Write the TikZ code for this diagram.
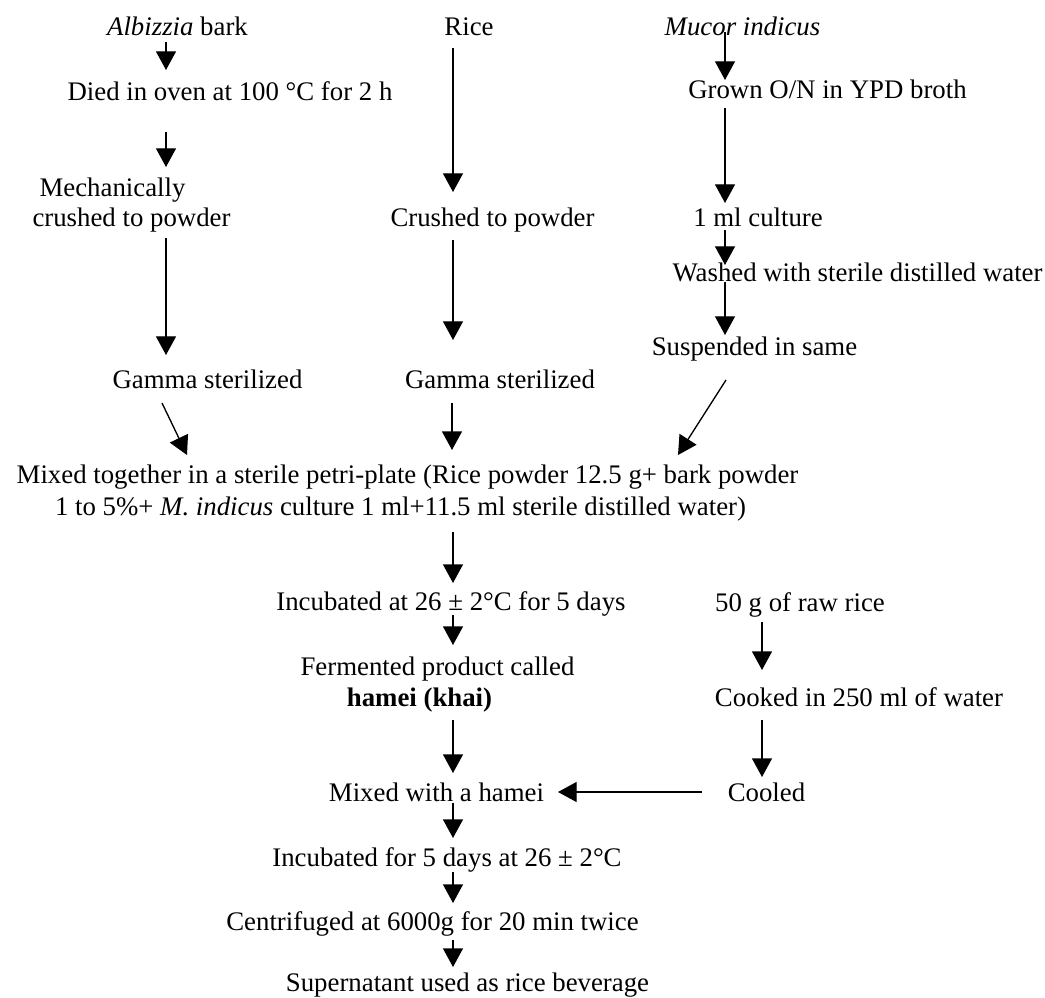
\documentclass[tikz,border=0pt]{standalone}
\usepackage{fontspec}
\setmainfont{Liberation Serif}
\usetikzlibrary{arrows.meta,calc}
\begin{document}
\begin{tikzpicture}[x=0.75pt,y=-0.75pt,
  lbl/.style={anchor=base,inner sep=0pt,font=\fontsize{20.1pt}{22.5pt}\selectfont},
  arr/.style={line width=1pt,-{Triangle[length=14pt,width=15pt]}}]
\useasboundingbox (0,0) rectangle (1045,998);
% left column
\node[lbl] (alb) at (177.5,35.5) {\textit{Albizzia} bark};
\node[lbl] (died) at (230,100.5) {Died in oven at 100 °C for 2 h};
\node[lbl] (mech1) at (112.5,196.5) {Mechanically};
\node[lbl] (mech2) at (131.5,226.5) {crushed to powder};
\node[lbl] (gam1) at (207.5,388.5) {Gamma sterilized};
% middle column
\node[lbl] (rice) at (469,35.5) {Rice};
\node[lbl] (crush) at (492.5,226.5) {Crushed to powder};
\node[lbl] (gam2) at (500,388.5) {Gamma sterilized};
% right column
\node[lbl] (mucor) at (742.5,35.5) {\textit{Mucor indicus}};
\node[lbl] (grown) at (827.5,98.5) {Grown O/N in YPD broth};
\node[lbl] (ml) at (758,226.5) {1 ml culture};
\node[lbl] (wash) at (857.5,281.5) {Washed with sterile distilled water};
\node[lbl] (susp) at (754.5,355.5) {Suspended in same};
% mix
\node[lbl] (mix1) at (407.5,483.5) {Mixed together in a sterile petri-plate (Rice powder 12.5 g+ bark powder};
\node[lbl] (mix2) at (400.5,515.5) {1 to 5\%+ \textit{M. indicus} culture 1 ml+11.5 ml sterile distilled water)};
% lower part
\node[lbl] (inc1) at (451,610.5) {Incubated at 26 ± 2°C for 5 days};
\node[lbl] (ferm1) at (437.5,675.5) {Fermented product called};
\node[lbl] (ferm2) at (419.5,706.5) {\textbf{hamei (khai)}};
\node[lbl] (raw) at (800,611.5) {50 g of raw rice};
\node[lbl] (cook) at (859,706.5) {Cooked in 250 ml of water};
\node[lbl] (mixh) at (436.5,801.5) {Mixed with a hamei};
\node[lbl] (cooled) at (766.5,801.5) {Cooled};
\node[lbl] (inc2) at (447,866.5) {Incubated for 5 days at 26 ± 2°C};
\node[lbl] (cent) at (432.5,930.5) {Centrifuged at 6000g for 20 min twice};
\node[lbl] (sup) at (467.5,991.5) {Supernatant used as rice beverage};
% arrows
\draw[arr] ($(alb.base)+(-11.5,6.5)$) -- ($(died.base)+(-64,-30.5)$);
\draw[arr] ($(died.base)+(-64,31.5)$) -- ($(mech1.base)+(53.5,-29.5)$);
\draw[arr] ($(mech2.base)+(34.5,11.5)$) -- ($(gam1.base)+(-41.5,-33.5)$);
\draw[arr] ($(gam1.base)+(-45.5,14.5)$) -- ($(mix1.base)+(-220.5,-28.5)$);
\draw[arr] ($(rice.base)+(-16,12.5)$) -- ($(crush.base)+(-39.5,-34.5)$);
\draw[arr] ($(crush.base)+(-39.5,13.5)$) -- ($(gam2.base)+(-47,-48.5)$);
\draw[arr] ($(gam2.base)+(-48,14.5)$) -- ($(mix1.base)+(44.5,-33.5)$);
\draw[arr] ($(susp.base)+(-28.5,24.5)$) -- ($(mix1.base)+(270.5,-28.5)$);
\draw[arr] ($(mucor.base)+(-17.5,-3.5)$) -- ($(grown.base)+(-102.5,-18.5)$);
\draw[arr] ($(grown.base)+(-102.5,9.5)$) -- ($(ml.base)+(-33,-23.5)$);
\draw[arr] ($(ml.base)+(-33,3.5)$) -- ($(wash.base)+(-132.5,-16.5)$);
\draw[arr] ($(wash.base)+(-132.5,0.5)$) -- ($(susp.base)+(-29.5,-20.5)$);
\draw[arr] ($(mix2.base)+(52.5,16.5)$) -- ($(inc1.base)+(2,-27.5)$);
\draw[arr] ($(inc1.base)+(2,4.5)$) -- ($(ferm1.base)+(15.5,-30.5)$);
\draw[arr] ($(ferm2.base)+(33.5,13.5)$) -- ($(mixh.base)+(16.5,-28.5)$);
\draw[arr] ($(mixh.base)+(16.5,1.5)$) -- ($(inc2.base)+(6,-28.5)$);
\draw[arr] ($(inc2.base)+(6,5.5)$) -- ($(cent.base)+(20.5,-27.5)$);
\draw[arr] ($(cent.base)+(20.5,9.5)$) -- ($(sup.base)+(-14.5,-24.5)$);
\draw[arr] ($(raw.base)+(-38,10.5)$) -- ($(cook.base)+(-97,-36.5)$);
\draw[arr] ($(cook.base)+(-97,13.5)$) -- ($(cooled.base)+(-4.5,-24.5)$);
\draw[arr] ($(cooled.base)+(-64.5,-9.5)$) -- ($(mixh.base)+(121.5,-9.5)$);
\end{tikzpicture}
\end{document}
